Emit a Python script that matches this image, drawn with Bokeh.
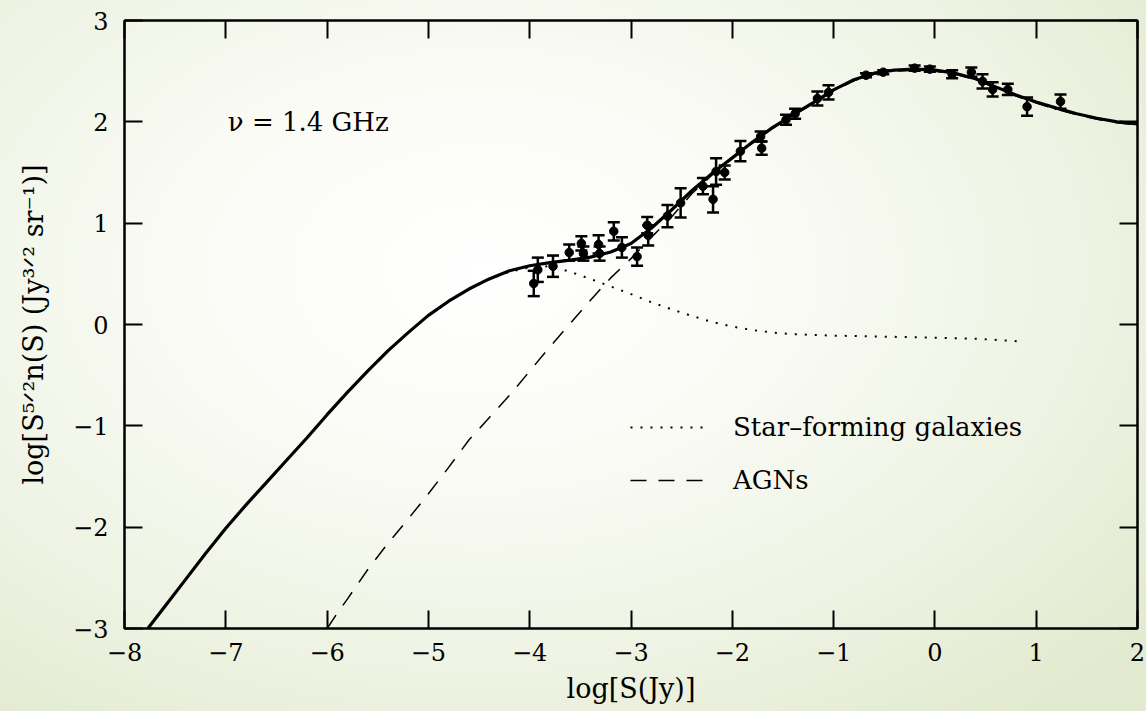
from bokeh.plotting import figure
from bokeh.models import (LinearAxis, SingleIntervalTicker, Legend, LegendItem,
                          Label, Whisker, TeeHead, ColumnDataSource)
from bokeh.embed import file_html
from bokeh.resources import INLINE

# ---- data ----
total_x = [-7.77, -7.6, -7.4, -7.2, -7.0, -6.8, -6.6, -6.4, -6.2, -6.0,
           -5.8, -5.6, -5.4, -5.2, -5.0, -4.8, -4.6, -4.4, -4.2, -4.0,
           -3.8, -3.6, -3.4, -3.2, -3.0, -2.8, -2.6, -2.4, -2.2, -2.0,
           -1.8, -1.6, -1.4, -1.2, -1.0, -0.8, -0.6, -0.4, -0.2, 0.0,
           0.2, 0.4, 0.6, 0.8, 1.0, 1.2, 1.4, 1.6, 1.8, 2.0]
total_y = [-3.0, -2.78, -2.52, -2.26, -2.01, -1.78, -1.56, -1.34, -1.12, -0.89,
           -0.67, -0.46, -0.26, -0.08, 0.09, 0.23, 0.35, 0.45, 0.53, 0.58,
           0.61, 0.635, 0.665, 0.715, 0.80, 0.95, 1.13, 1.32, 1.49, 1.645,
           1.80, 1.945, 2.07, 2.19, 2.315, 2.415, 2.48, 2.51, 2.52, 2.51,
           2.48, 2.425, 2.345, 2.265, 2.195, 2.135, 2.08, 2.035, 2.00, 1.98]

sf_x = [-7.77, -7.6, -7.4, -7.2, -7.0, -6.8, -6.6, -6.4, -6.2, -6.0,
        -5.8, -5.6, -5.4, -5.2, -5.0, -4.8, -4.6, -4.4, -4.2, -4.0,
        -3.8, -3.6, -3.4, -3.2, -3.0, -2.8, -2.6, -2.4, -2.2, -2.0,
        -1.8, -1.6, -1.4, -1.0, -0.5, 0.0, 0.4, 0.81]
sf_y = [-3.0, -2.78, -2.52, -2.26, -2.01, -1.78, -1.56, -1.34, -1.12, -0.89,
        -0.67, -0.46, -0.26, -0.08, 0.09, 0.23, 0.35, 0.445, 0.52, 0.565,
        0.575, 0.52, 0.45, 0.375, 0.30, 0.22, 0.15, 0.085, 0.025, -0.02,
        -0.055, -0.08, -0.095, -0.11, -0.12, -0.13, -0.14, -0.165]

agn_x = [-6.0, -5.9, -5.8, -5.6, -5.4, -5.2, -5.0, -4.8, -4.6, -4.4,
         -4.2, -4.0, -3.8, -3.6, -3.4, -3.2, -3.0, -2.8, -2.6, -2.4,
         -2.2, -2.0, -1.8, -1.6, -1.4, -1.2, -1.0, -0.8, -0.6, -0.4,
         -0.2, 0.0, 0.2, 0.4, 0.6, 0.8, 1.0, 1.2, 1.4, 1.6, 1.8, 2.0]
agn_y = [-3.0, -2.85, -2.71, -2.42, -2.16, -1.92, -1.67, -1.41, -1.14, -0.92,
         -0.70, -0.46, -0.22, 0.01, 0.24, 0.46, 0.65, 0.86, 1.06, 1.29,
         1.475, 1.635, 1.79, 1.935, 2.06, 2.18, 2.305, 2.405, 2.47, 2.50,
         2.51, 2.50, 2.47, 2.415, 2.335, 2.255, 2.185, 2.125, 2.07, 2.025, 1.99, 1.97]

pts_x = [-3.96, -3.92, -3.77, -3.61, -3.49, -3.47, -3.32, -3.31, -3.17, -3.09,
         -2.94, -2.84, -2.83, -2.64, -2.51, -2.29, -2.19, -2.16, -2.075, -1.92,
         -1.71, -1.72, -1.47, -1.38, -1.16, -1.05, -0.68, -0.51, -0.20, -0.05,
         0.17, 0.36, 0.47, 0.57, 0.72, 0.91, 1.24]
pts_y = [0.405, 0.54, 0.575, 0.71, 0.80, 0.70, 0.79, 0.70, 0.92, 0.76,
         0.67, 0.98, 0.88, 1.07, 1.20, 1.365, 1.235, 1.51, 1.50, 1.71,
         1.74, 1.855, 2.02, 2.08, 2.23, 2.29, 2.46, 2.49, 2.53, 2.52,
         2.47, 2.49, 2.40, 2.32, 2.32, 2.15, 2.20]
pts_err = [0.125, 0.12, 0.105, 0.08, 0.07, 0.07, 0.09, 0.07, 0.09, 0.10,
           0.09, 0.08, 0.10, 0.11, 0.145, 0.08, 0.13, 0.13, 0.07, 0.10,
           0.065, 0.05, 0.05, 0.05, 0.07, 0.07, 0.02, 0.02, 0.025, 0.025,
           0.04, 0.045, 0.07, 0.07, 0.055, 0.09, 0.07]

x_ticks = [-8, -7, -6, -5, -4, -3, -2, -1, 0, 1, 2]
y_ticks = [-3, -2, -1, 0, 1, 2, 3]

FONT = "DejaVu Serif"

p = figure(width=1146, height=711, x_range=(-8, 2), y_range=(-3, 3),
           output_backend="svg", toolbar_location=None,
           min_border_left=124, min_border_right=9, min_border_top=20, min_border_bottom=83)
p.border_fill_color = None
p.background_fill_color = None
p.styles = {"background": "radial-gradient(ellipse 75% 80% at 42% 38%, #ffffff 0%, #fafbf5 35%, #eef3e3 70%, #e2eacf 100%)"}
p.outline_line_color = "black"
p.outline_line_width = 2
p.grid.visible = False


def minus(v):
    return ("−" + str(abs(v))) if v < 0 else str(v)


def style_axis(ax, labels=True, ticks=None):
    ax.ticker = SingleIntervalTicker(interval=1, num_minor_ticks=0)
    ax.axis_line_width = 2
    ax.major_tick_line_width = 2
    ax.major_tick_in = 18
    ax.major_tick_out = 0
    ax.minor_tick_line_color = None
    ax.major_label_text_font = FONT
    if labels:
        ax.major_label_text_color = "black"
        ax.major_label_text_font_size = "24px"
        ax.major_label_overrides = {t: minus(t) for t in ticks}
    else:
        ax.major_label_text_color = None
        ax.major_label_text_font_size = "1px"
        ax.major_label_standoff = 0


xa = p.xaxis[0]
ya = p.yaxis[0]
style_axis(xa, True, x_ticks)
style_axis(ya, True, y_ticks)
xa.major_label_standoff = 14
ya.major_label_standoff = 16
xa.axis_label = "log[S(Jy)]"
ya.axis_label = "log[S⁵ᐟ²n(S) (Jy³ᐟ² sr⁻¹)]"
for ax in (xa, ya):
    ax.axis_label_text_font = FONT
    ax.axis_label_text_font_style = "normal"
    ax.axis_label_text_color = "black"
xa.axis_label_text_font_size = "27px"
ya.axis_label_text_font_size = "27px"
xa.axis_label_standoff = 9
ya.axis_label_standoff = 21

top = LinearAxis()
style_axis(top, False)
p.add_layout(top, "above")
right = LinearAxis()
style_axis(right, False)
p.add_layout(right, "right")

# curves
sf_r = p.line(sf_x, sf_y, line_color="black", line_width=2, line_dash="2 8")
agn_r = p.line(agn_x, agn_y, line_color="black", line_width=1.5, line_dash="16 12")
p.line(total_x, total_y, line_color="black", line_width=3.2)

# data points with error bars
src = ColumnDataSource(data=dict(x=pts_x, y=pts_y,
                                 lo=[y - e for y, e in zip(pts_y, pts_err)],
                                 hi=[y + e for y, e in zip(pts_y, pts_err)]))
wh = Whisker(source=src, base="x", lower="lo", upper="hi", line_width=2.5, line_color="black",
             upper_head=TeeHead(size=12, line_width=2.5, line_color="black"),
             lower_head=TeeHead(size=12, line_width=2.5, line_color="black"))
p.add_layout(wh)
p.scatter("x", "y", source=src, size=8.5, color="black")

# annotation
p.add_layout(Label(x=-6.98, y=2.0, text="ν = 1.4 GHz", text_font=FONT,
                   text_font_size="26px", text_baseline="middle", text_color="black"))

legend = Legend(items=[LegendItem(label="Star–forming galaxies", renderers=[sf_r]),
                       LegendItem(label="AGNs", renderers=[agn_r])],
                location=(506, 133), glyph_width=80, glyph_height=30, label_height=30,
                label_standoff=23, spacing=23, padding=0, margin=0,
                border_line_color=None, background_fill_alpha=0,
                label_text_font=FONT, label_text_font_size="26px", label_text_color="black")
p.add_layout(legend)

open("out.html", "w").write(file_html(p, INLINE))
